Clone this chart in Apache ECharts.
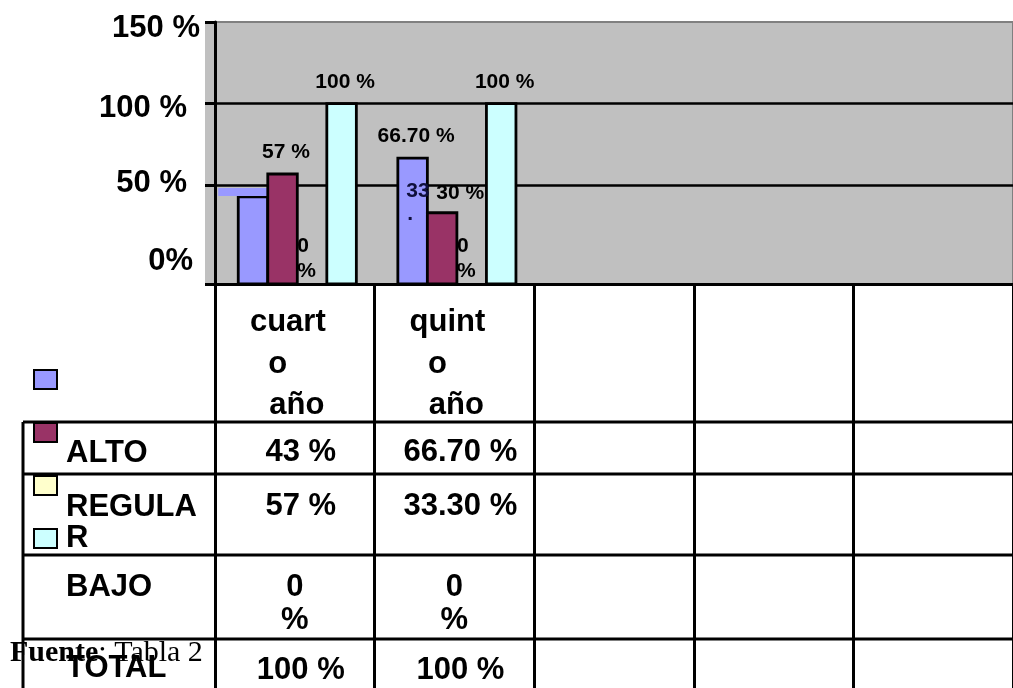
<!DOCTYPE html>
<html><head><meta charset="utf-8">
<script src="https://cdn.jsdelivr.net/npm/echarts@6/dist/echarts.min.js"></script>
<style>html,body{margin:0;padding:0;background:#fff}#c{width:1013px;height:688px}</style>
</head><body><div id="c"></div>
<script>
// ---- data ----
const categories = ['cuarto año', 'quinto año', '', '', ''];
const headerLines = [['cuart', 'o', 'año'], ['quint', 'o', 'año'], [], [], []];
const seriesNames = ['ALTO', 'REGULAR', 'BAJO', 'TOTAL'];
const altoValues = [43, 66.7];
const regularValues = [57, 33.3];
const bajoValues = [0, 0];
const totalValues = [100, 100];
const yTickValues = [0, 50, 100, 150];
const yTickLabels = ['0%', '50 %', '100 %', '150 %'];
const gridLineValues = [50, 100];
const sourceNote = ['Fuente', ': Tabla 2'];

// ---- style ----
const seriesColors = ['#9999FF', '#993366', '#FFFFCC', '#CCFFFF'];
const FONT = '"Liberation Sans", Arial, sans-serif';
const SERIF = '"Liberation Serif", "Times New Roman", serif';
const Y_MIN = -10.3, Y_MAX = 150;

function fmt(v) {
  if (v === 0) return '0\n%';
  return (Number.isInteger(v) ? String(v) : v.toFixed(2)) + ' %';
}

function makeRender(si) {
  return function (params, api) {
    const cat = api.value(0), v = api.value(1);
    const band = api.size([1, 0])[0];
    const bw = band * 0.185;
    const topPt = api.coord([cat, v]);
    const zeroPt = api.coord([cat, 0]);
    const basePt = api.coord([cat, Y_MIN]);
    const left = topPt[0] - 2 * bw + 2.5 + si * bw;
    const cx = left + bw / 2, top = topPt[1];
    const label = fmt(v);
    const els = [];
    if (v > 0) {
      els.push({type: 'rect', z2: 2 * si,
        shape: {x: left, y: top, width: bw, height: basePt[1] - top},
        style: {fill: seriesColors[si], stroke: '#000', lineWidth: 2.8}});
    }
    const t = (text, x, y, align, extra) => ({type: 'text', z2: 1,
      style: Object.assign({text: text, x: x, y: y, align: align, verticalAlign: 'middle',
        fontFamily: FONT, fontWeight: 'bold', fontSize: 21, fill: '#000'}, extra || {})});
    if (v === 0) {
      els.push(t(label, left, zeroPt[1] - 8.5, 'left', {lineHeight: 25}));
    } else if (si === 0 && cat === 0) {
      els.push({type: 'rect', z2: 1, shape: {x: left - 20, y: top - 9, width: bw + 20, height: 8},
        style: {fill: seriesColors[0]}});
    } else if (si === 1 && cat === 1) {
      const parts = label.split('.');
      els.push(t(parts[0], left - 21, top - 22, 'left', {fill: '#10103c'}));
      els.push(t('.', left - 20, top + 1, 'left', {fill: '#10103c'}));
      els.push(t(parts[1], left + 9, top - 20, 'left'));
    } else {
      els.push(t(label, cx + 3.5, top - 22, 'center'));
    }
    return {type: 'group', children: els};
  };
}

const seriesData = [altoValues, regularValues, bajoValues, totalValues];
const txt = {fontFamily: FONT, fontWeight: 'bold', fontSize: 31, color: '#000'};

const chart = echarts.init(document.getElementById('c'), null, {renderer: 'canvas'});
chart.setOption({
  animation: false,
  backgroundColor: '#fff',
  grid: {left: 215, top: 22, right: -12, bottom: 404, show: true,
    backgroundColor: '#C0C0C0', borderColor: '#808080', borderWidth: 2},
  legend: {orient: 'vertical', left: 33, top: 369, padding: 0, itemWidth: 23, itemHeight: 19, itemGap: 32,
    icon: 'rect', formatter: () => '', selectedMode: false, textStyle: {fontSize: 10, lineHeight: 10},
    itemStyle: {borderColor: '#000', borderWidth: 2}, data: seriesNames},
  xAxis: {
    type: 'category', data: categories, boundaryGap: true,
    axisLine: {onZero: false, lineStyle: {color: '#000', width: 3}},
    axisTick: {show: true, interval: 0, alignWithLabel: false, length: 405, lineStyle: {color: '#000', width: 3}},
    splitLine: {show: false},
    axisLabel: {
      interval: 0, margin: 18, verticalAlign: 'top', color: '#000',
      formatter: (val, idx) => {
        const L = headerLines[idx];
        if (!L || !L.length) return '';
        return '{a|' + L[0] + '}\n{b|' + L[1] + '}\n{c|' + L[2] + '}';
      },
      rich: {
        a: Object.assign({}, txt, {lineHeight: 41.5, padding: [0, 14, 0, 0]}),
        b: Object.assign({}, txt, {lineHeight: 41.5, padding: [0, 34, 0, 0]}),
        c: Object.assign({}, txt, {lineHeight: 41.5, padding: [0, 0, 0, 4]})
      }
    }
  },
  yAxis: {
    type: 'value', min: Y_MIN, max: Y_MAX,
    axisLine: {show: true, lineStyle: {color: '#000', width: 3}},
    axisTick: {show: true, customValues: [Y_MIN, 50, 100, 150], length: 10, lineStyle: {color: '#000', width: 3}},
    splitLine: {show: false},
    axisLabel: {
      customValues: yTickValues, margin: 15, color: '#000',
      formatter: (v) => { const i = yTickValues.indexOf(v); return i < 0 ? '' : '{t' + i + '|' + yTickLabels[i] + '}'; },
      rich: {
        t0: Object.assign({}, txt, {padding: [0, 7, 11, 0]}),
        t1: Object.assign({}, txt, {padding: [0, 13, 3, 0]}),
        t2: Object.assign({}, txt, {padding: [9, 13, 0, 0]}),
        t3: Object.assign({}, txt, {padding: [12, 0, 0, 0]})
      }
    }
  },
  series: seriesData.map((vals, si) => {
    const s = {
      type: 'custom', name: seriesNames[si], renderItem: makeRender(si), z: 2,
      data: vals.map((v, i) => [i, v]), encode: {x: 0, y: 1},
      itemStyle: {color: seriesColors[si], borderColor: '#000', borderWidth: 2}
    };
    if (si === 0) {
      s.markLine = {silent: true, symbol: 'none', z: 1, label: {show: false},
        lineStyle: {color: '#000', width: 2.5, type: 'solid'},
        data: gridLineValues.map(v => ({yAxis: v}))};
    }
    return s;
  })
});

// ---- data table below the plot ----
const colX = [0, 1].map(i => chart.convertToPixel({xAxisIndex: 0}, i));
const rowLabelTops = [437.5, 491.5, 571.5, 652.5];
const valueTops = [435.5, 489.5, 570.5, 653.5];
const hLines = [422, 474, 555, 639];
const g = [];
g.push({type: 'rect', z: -1, shape: {x: 205, y: 22, width: 10, height: 262}, style: {fill: '#C0C0C0'}});
hLines.forEach(y => g.push({type: 'line', shape: {x1: 23, y1: y, x2: 1013, y2: y}, style: {stroke: '#000', lineWidth: 3}}));
g.push({type: 'line', shape: {x1: 23, y1: 422, x2: 23, y2: 688}, style: {stroke: '#000', lineWidth: 3}});
seriesNames.forEach((name, r) => {
  const shown = name.length > 6 ? name.slice(0, 6) + '\n' + name.slice(6) : name;
  g.push({type: 'text', style: {text: shown, x: 66, y: rowLabelTops[r], verticalAlign: 'top', align: 'left',
    lineHeight: 31, fontFamily: FONT, fontWeight: 'bold', fontSize: 31, fill: '#000'}});
});
[0, 1].forEach(c => {
  seriesData.forEach((vals, r) => {
    const v = vals[c];
    g.push({type: 'text', style: {text: fmt(v), x: colX[c] + (v === 0 ? 0 : 6), y: valueTops[r],
      verticalAlign: 'top', align: 'center', lineHeight: 33,
      fontFamily: FONT, fontWeight: 'bold', fontSize: 31, fill: '#000'}});
  });
});
g.push({type: 'text', z: 10, style: {text: '{b|' + sourceNote[0] + '}{n|' + sourceNote[1] + '}', x: 10, y: 653,
  verticalAlign: 'middle', align: 'left',
  rich: {b: {fontFamily: SERIF, fontWeight: 'bold', fontSize: 30, fill: '#000'},
         n: {fontFamily: SERIF, fontSize: 30, fill: '#000'}}}});
chart.setOption({graphic: g});
</script></body></html>
